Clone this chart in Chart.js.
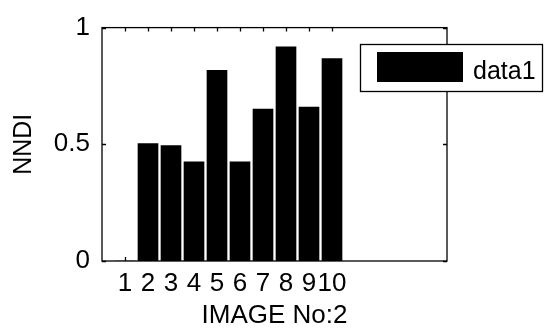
<!DOCTYPE html>
<html>
<head>
<meta charset="utf-8">
<script src="https://cdn.jsdelivr.net/npm/chart.js@4.4.1/dist/chart.umd.min.js"></script>
<style>
html,body{margin:0;padding:0;background:#fff;}
#wrap{width:548px;height:336px;position:relative;}
</style>
</head>
<body>
<div id="wrap"><canvas id="c" width="548" height="336"></canvas></div>
<script>
const categories = [1, 2, 3, 4, 5, 6, 7, 8, 9, 10];
const nndiValues = [0, 0.503, 0.495, 0.425, 0.817, 0.425, 0.651, 0.918, 0.660, 0.867];
const xTickLabels = ['1', '2', '3', '4', '5', '6', '7', '8', '9', '10'];
const yTickValues = [0, 0.5, 1];
const yTickLabels = ['0', '0.5', '1'];
const seriesName = 'data1';
const xTitle = 'IMAGE No:2';
const yTitle = 'NNDI';

const FONT = "'Liberation Sans', Arial, Helvetica, sans-serif";
Chart.defaults.color = '#000';

const boxAndTicks = {
  id: 'boxAndTicks',
  afterDatasetsDraw(chart) {
    const {ctx, chartArea: a, scales: {x, y}} = chart;
    ctx.save();
    ctx.strokeStyle = '#000';
    ctx.lineWidth = 1.3;
    ctx.strokeRect(a.left, a.top, a.right - a.left, a.bottom - a.top);
    ctx.beginPath();
    const tl = 4;
    categories.forEach(v => {
      const px = Math.round(x.getPixelForValue(v)) + 0.5;
      ctx.moveTo(px, a.top); ctx.lineTo(px, a.top + tl);
      ctx.moveTo(px, a.bottom); ctx.lineTo(px, a.bottom - tl);
    });
    yTickValues.forEach(v => {
      const py = Math.round(y.getPixelForValue(v)) + 0.5;
      ctx.moveTo(a.left, py); ctx.lineTo(a.left + tl, py);
      ctx.moveTo(a.right, py); ctx.lineTo(a.right - tl, py);
    });
    ctx.stroke();
    ctx.restore();
  },
  afterDraw(chart) {
    const {ctx} = chart;
    const ds = chart.data.datasets[0];
    ctx.save();
    const bx = 360.5, by = 44.5, bw = 182, bh = 47;
    ctx.fillStyle = '#fff';
    ctx.fillRect(bx, by, bw, bh);
    ctx.strokeStyle = '#000';
    ctx.lineWidth = 1.3;
    ctx.strokeRect(bx, by, bw, bh);
    ctx.fillStyle = ds.backgroundColor;
    ctx.fillRect(377, 52, 86, 30);
    ctx.fillStyle = '#000';
    ctx.font = "25px " + FONT;
    ctx.textBaseline = 'middle';
    ctx.textAlign = 'left';
    ctx.fillText(ds.label, 473, 72);
    ctx.restore();
  }
};

new Chart(document.getElementById('c'), {
  type: 'bar',
  data: {
    datasets: [{
      label: seriesName,
      data: categories.map((c, i) => ({x: c, y: nndiValues[i]})),
      backgroundColor: '#000',
      borderWidth: 0,
      barThickness: 20
    }]
  },
  options: {
    responsive: false,
    animation: false,
    events: [],
    layout: {padding: {top: 22, right: 101, left: 0, bottom: 0}},
    plugins: {legend: {display: false}, tooltip: {enabled: false}},
    scales: {
      x: {
        type: 'linear',
        min: 0,
        max: 15,
        offset: false,
        grid: {display: false, drawTicks: false, offset: false},
        border: {display: false},
        afterBuildTicks: s => { s.ticks = categories.map(v => ({value: v})); },
        afterFit: s => { s.height = 75; },
        ticks: {
          autoSkip: false,
          maxRotation: 0,
          padding: 7,
          color: '#000',
          font: {family: FONT, size: 26},
          callback: (v) => xTickLabels[categories.indexOf(v)]
        },
        title: {
          display: true,
          text: xTitle,
          color: '#000',
          font: {family: FONT, size: 26},
          padding: {top: 0, bottom: 5}
        }
      },
      y: {
        min: 0,
        max: 1,
        grid: {display: false, drawTicks: false},
        border: {display: false},
        afterBuildTicks: s => { s.ticks = yTickValues.map(v => ({value: v})); },
        afterFit: s => { s.width = 102; },
        ticks: {
          padding: 12,
          color: '#000',
          font: {family: FONT, size: 26},
          callback: (v) => yTickLabels[yTickValues.indexOf(v)]
        },
        title: {
          display: true,
          text: yTitle,
          color: '#000',
          font: {family: FONT, size: 25},
          padding: {top: 9, bottom: 0}
        }
      }
    }
  },
  plugins: [boxAndTicks]
});
</script>
</body>
</html>
